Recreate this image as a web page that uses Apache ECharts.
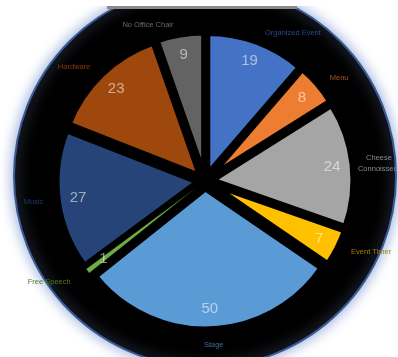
<!DOCTYPE html>
<html>
<head>
<meta charset="utf-8">
<script src="https://cdn.jsdelivr.net/npm/echarts@6/dist/echarts.min.js"></script>
<style>
  html, body { margin: 0; padding: 0; background: #fff; }
  #chart { width: 398px; height: 357px; }
</style>
</head>
<body>
<div id="chart"></div>
<script>
// Slices, clockwise from 12 o'clock
const categories = ['Organized Event', 'Menu', 'Cheese\nConnoisseur', 'Event Timer', 'Stage', 'Free Speech', 'Music', 'Hardware', 'No Office Chair'];
const values = [19, 8, 24, 7, 50, 1, 27, 23, 9];
const sliceColors = ['#4472C4', '#ED7D31', '#A5A5A5', '#FFC000', '#5B9BD5', '#70AD47', '#264478', '#9E480E', '#636363'];
const nameColors = ['#2a4a86', '#a9561c', '#8a8a8a', '#a88000', '#3d6f9e', '#4d7a2c', '#203a66', '#8a3c0a', '#6a6a6a'];

const cx = 205, cy = 181, R = 140, offset = 8;

const sliceData = categories.map((n, i) => ({
  name: n,
  value: values[i],
  selected: true,
  // the one-unit slice keeps a hairline outline so it stays visible
  itemStyle: values[i] < 2 ? { color: sliceColors[i], borderWidth: 0.5 } : { color: sliceColors[i] },
  label: { color: nameColors[i] }
}));

const valueData = categories.map((n, i) => ({
  name: n,
  value: values[i],
  selected: true
}));

// small nudges for a few outside name labels
const nameNudge = {
  2: { dx: 12, dy: 0, align: 'center' },
  4: { dx: -12, dy: 6 },
  5: { dx: -4, dy: 5 }
};

const chart = echarts.init(document.getElementById('chart'), null, { renderer: 'canvas' });
chart.setOption({
  animation: false,
  backgroundColor: '#ffffff',
  graphic: [
    {
      type: 'circle',
      shape: { cx: 205, cy: 176, r: 191 },
      style: { fill: '#000', stroke: '#3a5a96', lineWidth: 2, shadowBlur: 14, shadowColor: '#8aa2d4' },
      z: 0
    },
    { type: 'rect', shape: { x: 0, y: 0, width: 398, height: 6 }, style: { fill: '#fff' }, z: 1 },
    { type: 'rect', shape: { x: 107, y: 6, width: 190, height: 3 }, style: { fill: '#8a8a8a' }, z: 1 }
  ],
  series: [
    {
      type: 'pie',
      center: [cx, cy],
      radius: [0, R],
      startAngle: 90,
      clockwise: true,
      selectedMode: 'multiple',
      selectedOffset: offset,
      avoidLabelOverlap: false,
      itemStyle: { borderColor: '#000', borderWidth: 5 },
      emphasis: { disabled: true },
      label: {
        show: true,
        position: 'outside',
        fontFamily: 'Liberation Sans',
        fontSize: 7.5,
        lineHeight: 11,
        formatter: '{b}'
      },
      labelLine: { show: false, length: 10, length2: 0 },
      labelLayout: function (p) {
        return nameNudge[p.dataIndex] || {};
      },
      data: sliceData
    },
    {
      type: 'pie',
      center: [cx, cy],
      radius: [94, R],
      startAngle: 90,
      clockwise: true,
      selectedMode: 'multiple',
      selectedOffset: offset,
      silent: true,
      avoidLabelOverlap: false,
      itemStyle: { color: 'rgba(0,0,0,0)' },
      emphasis: { disabled: true },
      label: {
        show: true,
        position: 'inside',
        fontFamily: 'Liberation Sans',
        fontSize: 15,
        color: 'rgba(255,255,255,0.55)',
        formatter: '{c}'
      },
      labelLine: { show: false },
      data: valueData
    }
  ]
});
</script>
</body>
</html>
